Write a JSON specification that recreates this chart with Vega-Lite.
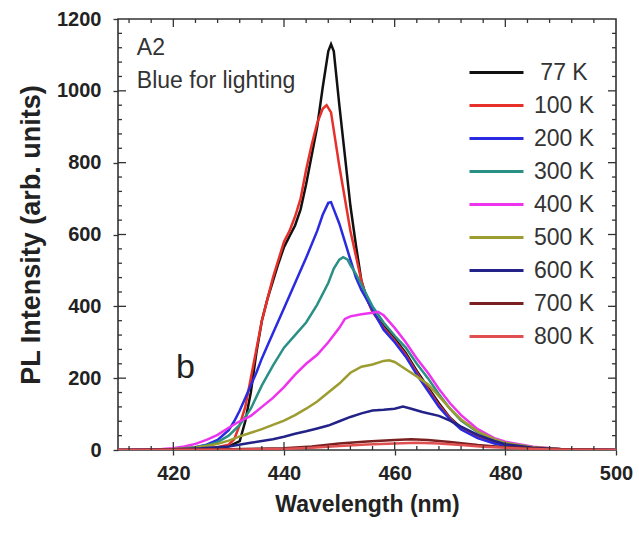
{
  "$schema": "https://vega.github.io/schema/vega-lite/v6.json",
  "width": 498,
  "height": 431,
  "autosize": "none",
  "padding": {"left": 118, "top": 19, "right": 23, "bottom": 84},
  "background": "white",
  "config": {
    "view": {"stroke": "#333", "strokeWidth": 1.6},
    "font": "Liberation Sans",
    "axis": {"domain": false, "grid": false, "ticks": true, "tickSize": 5, "tickColor": "#333", "tickWidth": 1.3, "labelOverlap": false, "labelFlush": false, "labelFont": "Liberation Sans", "labelFontWeight": "bold", "labelFontSize": 20, "labelColor": "#222", "titleFont": "Liberation Sans", "titleFontWeight": "bold", "titleColor": "#222"},
    "rule": {"color": "#333", "strokeWidth": 1.3},
    "legend": {"orient": "none", "legendX": 350, "legendY": 37, "padding": 0, "symbolType": "stroke", "symbolSize": 2916, "symbolStrokeWidth": 3, "clipHeight": 33, "rowPadding": 0, "labelFont": "Liberation Sans", "labelFontSize": 23, "labelColor": "#333", "labelAlign": "center", "labelOffset": 39, "title": null}
  },
  "datasets": {
    "spectra": [
      {"T": "77 K", "wl": 410, "I": 0}, {"T": "77 K", "wl": 420, "I": 0}, {"T": "77 K", "wl": 425, "I": 2}, {"T": "77 K", "wl": 428, "I": 5}, {"T": "77 K", "wl": 430, "I": 10}, {"T": "77 K", "wl": 432, "I": 25}, {"T": "77 K", "wl": 433, "I": 80}, {"T": "77 K", "wl": 434, "I": 160}, {"T": "77 K", "wl": 435, "I": 270}, {"T": "77 K", "wl": 436, "I": 360}, {"T": "77 K", "wl": 437, "I": 420}, {"T": "77 K", "wl": 438, "I": 470}, {"T": "77 K", "wl": 439, "I": 520}, {"T": "77 K", "wl": 440, "I": 565}, {"T": "77 K", "wl": 441, "I": 595}, {"T": "77 K", "wl": 442, "I": 625}, {"T": "77 K", "wl": 443, "I": 670}, {"T": "77 K", "wl": 444, "I": 740}, {"T": "77 K", "wl": 445, "I": 820}, {"T": "77 K", "wl": 446, "I": 900}, {"T": "77 K", "wl": 447, "I": 1010}, {"T": "77 K", "wl": 448, "I": 1110}, {"T": "77 K", "wl": 448.5, "I": 1130}, {"T": "77 K", "wl": 449, "I": 1110}, {"T": "77 K", "wl": 450, "I": 960}, {"T": "77 K", "wl": 451, "I": 820}, {"T": "77 K", "wl": 452, "I": 680}, {"T": "77 K", "wl": 453, "I": 570}, {"T": "77 K", "wl": 454, "I": 470}, {"T": "77 K", "wl": 455, "I": 420}, {"T": "77 K", "wl": 456, "I": 385}, {"T": "77 K", "wl": 458, "I": 345}, {"T": "77 K", "wl": 460, "I": 310}, {"T": "77 K", "wl": 462, "I": 270}, {"T": "77 K", "wl": 464, "I": 220}, {"T": "77 K", "wl": 466, "I": 175}, {"T": "77 K", "wl": 468, "I": 130}, {"T": "77 K", "wl": 470, "I": 90}, {"T": "77 K", "wl": 472, "I": 62}, {"T": "77 K", "wl": 475, "I": 38}, {"T": "77 K", "wl": 478, "I": 22}, {"T": "77 K", "wl": 480, "I": 15}, {"T": "77 K", "wl": 485, "I": 5}, {"T": "77 K", "wl": 490, "I": 2}, {"T": "77 K", "wl": 500, "I": 0},

      {"T": "100 K", "wl": 410, "I": 0}, {"T": "100 K", "wl": 420, "I": 0}, {"T": "100 K", "wl": 425, "I": 3}, {"T": "100 K", "wl": 428, "I": 8}, {"T": "100 K", "wl": 430, "I": 15}, {"T": "100 K", "wl": 431, "I": 30}, {"T": "100 K", "wl": 432, "I": 70}, {"T": "100 K", "wl": 433, "I": 120}, {"T": "100 K", "wl": 434, "I": 200}, {"T": "100 K", "wl": 435, "I": 280}, {"T": "100 K", "wl": 436, "I": 360}, {"T": "100 K", "wl": 437, "I": 420}, {"T": "100 K", "wl": 438, "I": 480}, {"T": "100 K", "wl": 439, "I": 530}, {"T": "100 K", "wl": 440, "I": 580}, {"T": "100 K", "wl": 441, "I": 610}, {"T": "100 K", "wl": 442, "I": 650}, {"T": "100 K", "wl": 443, "I": 700}, {"T": "100 K", "wl": 444, "I": 780}, {"T": "100 K", "wl": 445, "I": 850}, {"T": "100 K", "wl": 446, "I": 910}, {"T": "100 K", "wl": 447, "I": 950}, {"T": "100 K", "wl": 447.7, "I": 960}, {"T": "100 K", "wl": 448.5, "I": 940}, {"T": "100 K", "wl": 449, "I": 890}, {"T": "100 K", "wl": 450, "I": 790}, {"T": "100 K", "wl": 451, "I": 700}, {"T": "100 K", "wl": 452, "I": 610}, {"T": "100 K", "wl": 453, "I": 540}, {"T": "100 K", "wl": 454, "I": 470}, {"T": "100 K", "wl": 455, "I": 420}, {"T": "100 K", "wl": 456, "I": 385}, {"T": "100 K", "wl": 458, "I": 340}, {"T": "100 K", "wl": 460, "I": 305}, {"T": "100 K", "wl": 462, "I": 265}, {"T": "100 K", "wl": 464, "I": 215}, {"T": "100 K", "wl": 466, "I": 170}, {"T": "100 K", "wl": 468, "I": 125}, {"T": "100 K", "wl": 470, "I": 88}, {"T": "100 K", "wl": 472, "I": 60}, {"T": "100 K", "wl": 475, "I": 36}, {"T": "100 K", "wl": 478, "I": 22}, {"T": "100 K", "wl": 480, "I": 14}, {"T": "100 K", "wl": 485, "I": 5}, {"T": "100 K", "wl": 490, "I": 2}, {"T": "100 K", "wl": 500, "I": 0},

      {"T": "200 K", "wl": 410, "I": 0}, {"T": "200 K", "wl": 418, "I": 1}, {"T": "200 K", "wl": 420, "I": 2}, {"T": "200 K", "wl": 422, "I": 4}, {"T": "200 K", "wl": 424, "I": 8}, {"T": "200 K", "wl": 426, "I": 15}, {"T": "200 K", "wl": 428, "I": 28}, {"T": "200 K", "wl": 430, "I": 55}, {"T": "200 K", "wl": 431, "I": 80}, {"T": "200 K", "wl": 432, "I": 110}, {"T": "200 K", "wl": 433, "I": 145}, {"T": "200 K", "wl": 434, "I": 180}, {"T": "200 K", "wl": 435, "I": 215}, {"T": "200 K", "wl": 436, "I": 255}, {"T": "200 K", "wl": 437, "I": 290}, {"T": "200 K", "wl": 438, "I": 325}, {"T": "200 K", "wl": 439, "I": 360}, {"T": "200 K", "wl": 440, "I": 395}, {"T": "200 K", "wl": 442, "I": 465}, {"T": "200 K", "wl": 444, "I": 535}, {"T": "200 K", "wl": 446, "I": 610}, {"T": "200 K", "wl": 447, "I": 655}, {"T": "200 K", "wl": 448, "I": 688}, {"T": "200 K", "wl": 448.5, "I": 690}, {"T": "200 K", "wl": 449, "I": 670}, {"T": "200 K", "wl": 450, "I": 630}, {"T": "200 K", "wl": 451, "I": 580}, {"T": "200 K", "wl": 452, "I": 530}, {"T": "200 K", "wl": 453, "I": 480}, {"T": "200 K", "wl": 454, "I": 445}, {"T": "200 K", "wl": 455, "I": 418}, {"T": "200 K", "wl": 456, "I": 390}, {"T": "200 K", "wl": 458, "I": 335}, {"T": "200 K", "wl": 460, "I": 300}, {"T": "200 K", "wl": 462, "I": 260}, {"T": "200 K", "wl": 464, "I": 210}, {"T": "200 K", "wl": 466, "I": 165}, {"T": "200 K", "wl": 468, "I": 120}, {"T": "200 K", "wl": 470, "I": 85}, {"T": "200 K", "wl": 472, "I": 57}, {"T": "200 K", "wl": 475, "I": 33}, {"T": "200 K", "wl": 478, "I": 18}, {"T": "200 K", "wl": 480, "I": 12}, {"T": "200 K", "wl": 485, "I": 4}, {"T": "200 K", "wl": 490, "I": 1}, {"T": "200 K", "wl": 500, "I": 0},

      {"T": "300 K", "wl": 410, "I": 0}, {"T": "300 K", "wl": 418, "I": 1}, {"T": "300 K", "wl": 420, "I": 2}, {"T": "300 K", "wl": 422, "I": 4}, {"T": "300 K", "wl": 424, "I": 8}, {"T": "300 K", "wl": 426, "I": 13}, {"T": "300 K", "wl": 428, "I": 22}, {"T": "300 K", "wl": 430, "I": 40}, {"T": "300 K", "wl": 432, "I": 70}, {"T": "300 K", "wl": 434, "I": 115}, {"T": "300 K", "wl": 436, "I": 180}, {"T": "300 K", "wl": 438, "I": 235}, {"T": "300 K", "wl": 440, "I": 285}, {"T": "300 K", "wl": 442, "I": 320}, {"T": "300 K", "wl": 444, "I": 355}, {"T": "300 K", "wl": 446, "I": 405}, {"T": "300 K", "wl": 448, "I": 465}, {"T": "300 K", "wl": 449, "I": 505}, {"T": "300 K", "wl": 450, "I": 530}, {"T": "300 K", "wl": 450.7, "I": 537}, {"T": "300 K", "wl": 451.5, "I": 530}, {"T": "300 K", "wl": 452, "I": 515}, {"T": "300 K", "wl": 453, "I": 490}, {"T": "300 K", "wl": 454, "I": 460}, {"T": "300 K", "wl": 455, "I": 430}, {"T": "300 K", "wl": 456, "I": 400}, {"T": "300 K", "wl": 458, "I": 355}, {"T": "300 K", "wl": 460, "I": 318}, {"T": "300 K", "wl": 462, "I": 285}, {"T": "300 K", "wl": 464, "I": 240}, {"T": "300 K", "wl": 466, "I": 200}, {"T": "300 K", "wl": 468, "I": 155}, {"T": "300 K", "wl": 470, "I": 115}, {"T": "300 K", "wl": 472, "I": 82}, {"T": "300 K", "wl": 475, "I": 50}, {"T": "300 K", "wl": 478, "I": 28}, {"T": "300 K", "wl": 480, "I": 19}, {"T": "300 K", "wl": 485, "I": 7}, {"T": "300 K", "wl": 490, "I": 2}, {"T": "300 K", "wl": 500, "I": 0},

      {"T": "400 K", "wl": 410, "I": 0}, {"T": "400 K", "wl": 414, "I": 1}, {"T": "400 K", "wl": 418, "I": 3}, {"T": "400 K", "wl": 420, "I": 5}, {"T": "400 K", "wl": 422, "I": 10}, {"T": "400 K", "wl": 424, "I": 17}, {"T": "400 K", "wl": 426, "I": 28}, {"T": "400 K", "wl": 428, "I": 42}, {"T": "400 K", "wl": 430, "I": 62}, {"T": "400 K", "wl": 432, "I": 80}, {"T": "400 K", "wl": 434, "I": 95}, {"T": "400 K", "wl": 436, "I": 120}, {"T": "400 K", "wl": 438, "I": 145}, {"T": "400 K", "wl": 440, "I": 175}, {"T": "400 K", "wl": 442, "I": 210}, {"T": "400 K", "wl": 444, "I": 240}, {"T": "400 K", "wl": 446, "I": 265}, {"T": "400 K", "wl": 448, "I": 300}, {"T": "400 K", "wl": 450, "I": 340}, {"T": "400 K", "wl": 451, "I": 365}, {"T": "400 K", "wl": 452, "I": 372}, {"T": "400 K", "wl": 454, "I": 378}, {"T": "400 K", "wl": 456, "I": 382}, {"T": "400 K", "wl": 457, "I": 385}, {"T": "400 K", "wl": 458, "I": 375}, {"T": "400 K", "wl": 460, "I": 340}, {"T": "400 K", "wl": 462, "I": 300}, {"T": "400 K", "wl": 464, "I": 255}, {"T": "400 K", "wl": 466, "I": 215}, {"T": "400 K", "wl": 468, "I": 170}, {"T": "400 K", "wl": 470, "I": 130}, {"T": "400 K", "wl": 472, "I": 97}, {"T": "400 K", "wl": 475, "I": 58}, {"T": "400 K", "wl": 478, "I": 33}, {"T": "400 K", "wl": 480, "I": 23}, {"T": "400 K", "wl": 485, "I": 9}, {"T": "400 K", "wl": 490, "I": 3}, {"T": "400 K", "wl": 500, "I": 0},

      {"T": "500 K", "wl": 410, "I": 0}, {"T": "500 K", "wl": 416, "I": 1}, {"T": "500 K", "wl": 420, "I": 3}, {"T": "500 K", "wl": 424, "I": 7}, {"T": "500 K", "wl": 426, "I": 11}, {"T": "500 K", "wl": 428, "I": 17}, {"T": "500 K", "wl": 430, "I": 26}, {"T": "500 K", "wl": 432, "I": 38}, {"T": "500 K", "wl": 434, "I": 48}, {"T": "500 K", "wl": 436, "I": 58}, {"T": "500 K", "wl": 438, "I": 70}, {"T": "500 K", "wl": 440, "I": 82}, {"T": "500 K", "wl": 442, "I": 97}, {"T": "500 K", "wl": 444, "I": 115}, {"T": "500 K", "wl": 446, "I": 135}, {"T": "500 K", "wl": 448, "I": 160}, {"T": "500 K", "wl": 450, "I": 185}, {"T": "500 K", "wl": 452, "I": 215}, {"T": "500 K", "wl": 454, "I": 232}, {"T": "500 K", "wl": 456, "I": 238}, {"T": "500 K", "wl": 458, "I": 248}, {"T": "500 K", "wl": 459, "I": 250}, {"T": "500 K", "wl": 460, "I": 245}, {"T": "500 K", "wl": 462, "I": 225}, {"T": "500 K", "wl": 464, "I": 205}, {"T": "500 K", "wl": 466, "I": 183}, {"T": "500 K", "wl": 468, "I": 150}, {"T": "500 K", "wl": 470, "I": 115}, {"T": "500 K", "wl": 472, "I": 85}, {"T": "500 K", "wl": 475, "I": 52}, {"T": "500 K", "wl": 478, "I": 30}, {"T": "500 K", "wl": 480, "I": 20}, {"T": "500 K", "wl": 485, "I": 8}, {"T": "500 K", "wl": 490, "I": 3}, {"T": "500 K", "wl": 500, "I": 0},

      {"T": "600 K", "wl": 410, "I": 0}, {"T": "600 K", "wl": 420, "I": 2}, {"T": "600 K", "wl": 425, "I": 5}, {"T": "600 K", "wl": 430, "I": 10}, {"T": "600 K", "wl": 434, "I": 20}, {"T": "600 K", "wl": 438, "I": 30}, {"T": "600 K", "wl": 440, "I": 37}, {"T": "600 K", "wl": 442, "I": 45}, {"T": "600 K", "wl": 444, "I": 52}, {"T": "600 K", "wl": 446, "I": 60}, {"T": "600 K", "wl": 448, "I": 68}, {"T": "600 K", "wl": 450, "I": 80}, {"T": "600 K", "wl": 452, "I": 92}, {"T": "600 K", "wl": 454, "I": 102}, {"T": "600 K", "wl": 456, "I": 110}, {"T": "600 K", "wl": 458, "I": 112}, {"T": "600 K", "wl": 460, "I": 115}, {"T": "600 K", "wl": 461.5, "I": 121}, {"T": "600 K", "wl": 463, "I": 115}, {"T": "600 K", "wl": 465, "I": 106}, {"T": "600 K", "wl": 468, "I": 95}, {"T": "600 K", "wl": 470, "I": 82}, {"T": "600 K", "wl": 472, "I": 65}, {"T": "600 K", "wl": 475, "I": 42}, {"T": "600 K", "wl": 478, "I": 25}, {"T": "600 K", "wl": 480, "I": 16}, {"T": "600 K", "wl": 485, "I": 6}, {"T": "600 K", "wl": 490, "I": 2}, {"T": "600 K", "wl": 500, "I": 0},

      {"T": "700 K", "wl": 410, "I": 0}, {"T": "700 K", "wl": 430, "I": 2}, {"T": "700 K", "wl": 440, "I": 5}, {"T": "700 K", "wl": 445, "I": 10}, {"T": "700 K", "wl": 450, "I": 18}, {"T": "700 K", "wl": 455, "I": 24}, {"T": "700 K", "wl": 460, "I": 28}, {"T": "700 K", "wl": 463, "I": 30}, {"T": "700 K", "wl": 466, "I": 28}, {"T": "700 K", "wl": 470, "I": 22}, {"T": "700 K", "wl": 475, "I": 14}, {"T": "700 K", "wl": 480, "I": 8}, {"T": "700 K", "wl": 485, "I": 4}, {"T": "700 K", "wl": 490, "I": 2}, {"T": "700 K", "wl": 500, "I": 0},

      {"T": "800 K", "wl": 410, "I": 0}, {"T": "800 K", "wl": 430, "I": 1}, {"T": "800 K", "wl": 440, "I": 3}, {"T": "800 K", "wl": 445, "I": 6}, {"T": "800 K", "wl": 450, "I": 11}, {"T": "800 K", "wl": 455, "I": 15}, {"T": "800 K", "wl": 460, "I": 18}, {"T": "800 K", "wl": 464, "I": 20}, {"T": "800 K", "wl": 468, "I": 18}, {"T": "800 K", "wl": 472, "I": 14}, {"T": "800 K", "wl": 476, "I": 9}, {"T": "800 K", "wl": 480, "I": 6}, {"T": "800 K", "wl": 485, "I": 3}, {"T": "800 K", "wl": 490, "I": 1}, {"T": "800 K", "wl": 500, "I": 0}
    ],
    "notes": [
      {"label": "A2", "wl": 413.4, "I": 1100},
      {"label": "Blue for lighting", "wl": 413.4, "I": 1008}
    ],
    "panel": [
      {"label": "b", "wl": 420.5, "I": 200}
    ],
    "xmajor": [{"v": 420}, {"v": 440}, {"v": 460}, {"v": 480}],
    "xminor": [{"v": 412}, {"v": 416}, {"v": 424}, {"v": 428}, {"v": 432}, {"v": 436}, {"v": 444}, {"v": 448}, {"v": 452}, {"v": 456}, {"v": 464}, {"v": 468}, {"v": 472}, {"v": 476}, {"v": 484}, {"v": 488}, {"v": 492}, {"v": 496}],
    "ymajor": [{"v": 200}, {"v": 400}, {"v": 600}, {"v": 800}, {"v": 1000}],
    "yminor": [{"v": 40}, {"v": 80}, {"v": 120}, {"v": 160}, {"v": 240}, {"v": 280}, {"v": 320}, {"v": 360}, {"v": 440}, {"v": 480}, {"v": 520}, {"v": 560}, {"v": 640}, {"v": 680}, {"v": 720}, {"v": 760}, {"v": 840}, {"v": 880}, {"v": 920}, {"v": 960}, {"v": 1040}, {"v": 1080}, {"v": 1120}, {"v": 1160}]
  },
  "resolve": {"axis": {"x": "independent", "y": "independent"}},
  "layer": [
    {
      "data": {"name": "spectra"},
      "mark": {"type": "line", "strokeWidth": 2.5, "clip": true},
      "encoding": {
        "x": {
          "field": "wl", "type": "quantitative",
          "scale": {"domain": [410, 500], "nice": false, "zero": false},
          "axis": {
            "orient": "bottom", "title": "Wavelength (nm)", "titleFontSize": 23, "titlePadding": 10,
            "values": [420, 440, 460, 480, 500],
            "labelPadding": 8
          }
        },
        "y": {
          "field": "I", "type": "quantitative",
          "scale": {"domain": [0, 1200], "nice": false},
          "axis": {
            "orient": "left", "title": "PL Intensity (arb. units)", "titleFontSize": 27, "titlePadding": 11,
            "values": [0, 200, 400, 600, 800, 1000, 1200],
            "format": "d",
            "labelPadding": 12
          }
        },
        "color": {
          "field": "T", "type": "nominal",
          "scale": {
            "domain": ["77 K", "100 K", "200 K", "300 K", "400 K", "500 K", "600 K", "700 K", "800 K"],
            "range": ["#111111", "#e8302a", "#2a2ae0", "#2a8f85", "#ee33ee", "#9c9c30", "#222288", "#7a2020", "#e05050"]
          },
          "legend": {"title": null}
        }
      }
    },
    {
      "data": {"name": "xmajor"},
      "mark": {"type": "rule"},
      "encoding": {"x": {"field": "v", "type": "quantitative", "axis": null}, "y": {"datum": 0, "axis": null}, "y2": {"datum": 22}}
    },
    {
      "data": {"name": "xmajor"},
      "mark": {"type": "rule"},
      "encoding": {"x": {"field": "v", "type": "quantitative", "axis": null}, "y": {"datum": 1200, "axis": null}, "y2": {"datum": 1178}}
    },
    {
      "data": {"name": "xminor"},
      "mark": {"type": "rule"},
      "encoding": {"x": {"field": "v", "type": "quantitative", "axis": null}, "y": {"datum": 0, "axis": null}, "y2": {"datum": 11}}
    },
    {
      "data": {"name": "xminor"},
      "mark": {"type": "rule"},
      "encoding": {"x": {"field": "v", "type": "quantitative", "axis": null}, "y": {"datum": 1200, "axis": null}, "y2": {"datum": 1189}}
    },
    {
      "data": {"name": "ymajor"},
      "mark": {"type": "rule"},
      "encoding": {"y": {"field": "v", "type": "quantitative", "axis": null}, "x": {"datum": 410, "axis": null}, "x2": {"datum": 411.45}}
    },
    {
      "data": {"name": "ymajor"},
      "mark": {"type": "rule"},
      "encoding": {"y": {"field": "v", "type": "quantitative", "axis": null}, "x": {"datum": 500, "axis": null}, "x2": {"datum": 498.55}}
    },
    {
      "data": {"name": "yminor"},
      "mark": {"type": "rule"},
      "encoding": {"y": {"field": "v", "type": "quantitative", "axis": null}, "x": {"datum": 410, "axis": null}, "x2": {"datum": 410.72}}
    },
    {
      "data": {"name": "yminor"},
      "mark": {"type": "rule"},
      "encoding": {"y": {"field": "v", "type": "quantitative", "axis": null}, "x": {"datum": 500, "axis": null}, "x2": {"datum": 499.28}}
    },
    {
      "data": {"name": "notes"},
      "mark": {"type": "text", "align": "left", "baseline": "alphabetic", "fontSize": 23, "font": "Liberation Sans", "color": "#333"},
      "encoding": {
        "x": {"field": "wl", "type": "quantitative", "axis": null},
        "y": {"field": "I", "type": "quantitative", "axis": null},
        "text": {"field": "label", "type": "nominal"}
      }
    },
    {
      "data": {"name": "panel"},
      "mark": {"type": "text", "align": "left", "baseline": "alphabetic", "fontSize": 34, "font": "Liberation Sans", "color": "#222"},
      "encoding": {
        "x": {"field": "wl", "type": "quantitative", "axis": null},
        "y": {"field": "I", "type": "quantitative", "axis": null},
        "text": {"field": "label", "type": "nominal"}
      }
    }
  ]
}
